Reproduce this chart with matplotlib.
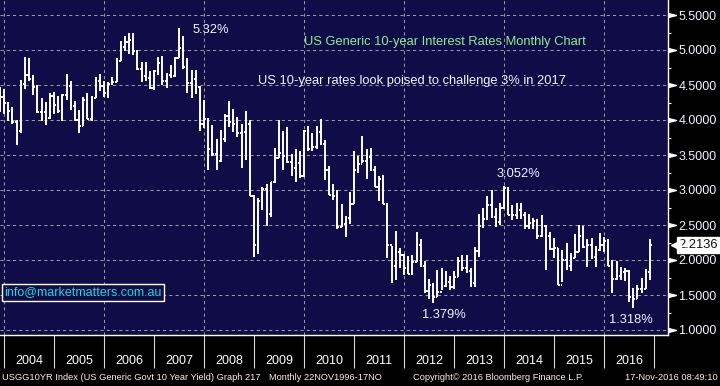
import numpy as np
import matplotlib.pyplot as plt
from matplotlib import transforms

plt.rcParams['font.family'] = ['Liberation Sans', 'DejaVu Sans']

# monthly bars, Nov 2003 .. Nov 2016 (bar dated at month end)
first_open = 4.29
highs = [4.47, 4.45,
         4.26, 4.18, 4.00, 4.57, 4.90, 4.89, 4.64, 4.50, 4.32, 4.26, 4.39, 4.40,
         4.35, 4.37, 4.66, 4.56, 4.27, 4.15, 4.33, 4.39, 4.35, 4.61, 4.66, 4.56,
         4.54, 4.62, 4.88, 5.13, 5.20, 5.25, 5.24, 5.00, 4.83, 4.83, 4.70, 4.72,
         4.90, 4.92, 4.67, 4.79, 4.90, 5.32, 5.20, 4.88, 4.72, 4.71, 4.48, 4.29,
         4.03, 3.93, 3.73, 3.86, 4.08, 4.27, 4.16, 4.04, 3.94, 4.13, 4.00, 2.93,
         2.88, 3.04, 3.08, 3.12, 3.60, 4.00, 3.84, 3.90, 3.52, 3.58, 3.56, 3.86,
         3.92, 3.81, 3.92, 4.01, 3.71, 3.34, 3.08, 3.00, 2.80, 2.63, 2.97, 3.56,
         3.49, 3.77, 3.58, 3.60, 3.35, 3.20, 3.22, 2.82, 2.20, 2.42, 2.17, 2.09,
         2.06, 2.07, 2.40, 2.30, 1.98, 1.73, 1.67, 1.86, 1.89, 1.85, 1.77, 1.85,
         2.04, 2.07, 2.07, 1.88, 2.19, 2.66, 2.75, 2.92, 3.00, 2.75, 2.81, 3.052,
         3.04, 2.79, 2.82, 2.81, 2.68, 2.66, 2.60, 2.58, 2.65, 2.50, 2.40, 2.31,
         2.17, 2.15, 2.25, 2.10, 2.37, 2.50, 2.48, 2.30, 2.31, 2.20, 2.38, 2.33,
         2.30, 2.00, 1.99, 1.90, 1.88, 1.86, 1.60, 1.64, 1.74, 1.87, 2.30]
lows = [4.12, 4.08,
        3.99, 3.95, 3.65, 3.82, 4.45, 4.56, 4.36, 4.10, 3.98, 3.93, 4.01, 4.09,
        4.10, 3.99, 4.29, 4.15, 3.99, 3.81, 3.91, 4.01, 3.99, 4.32, 4.42, 4.33,
        4.32, 4.50, 4.55, 4.84, 4.99, 4.95, 4.93, 4.71, 4.55, 4.56, 4.44, 4.43,
        4.65, 4.50, 4.46, 4.60, 4.61, 4.89, 4.73, 4.39, 4.32, 4.37, 3.84, 3.88,
        3.28, 3.48, 3.29, 3.40, 3.69, 3.90, 3.83, 3.76, 3.31, 3.43, 2.91, 2.04,
        2.08, 2.71, 2.48, 2.62, 3.10, 3.46, 3.29, 3.39, 3.20, 3.11, 3.17, 3.18,
        3.56, 3.56, 3.58, 3.65, 3.14, 2.93, 2.86, 2.44, 2.47, 2.33, 2.52, 2.80,
        3.25, 3.38, 3.16, 3.27, 3.04, 2.84, 2.80, 2.03, 1.67, 1.72, 1.88, 1.79,
        1.80, 1.79, 1.97, 1.90, 1.53, 1.44, 1.379, 1.47, 1.57, 1.61, 1.57, 1.58,
        1.76, 1.85, 1.82, 1.61, 1.61, 2.05, 2.46, 2.57, 2.60, 2.47, 2.50, 2.73,
        2.64, 2.57, 2.59, 2.59, 2.44, 2.44, 2.45, 2.30, 2.33, 1.86, 2.15, 2.03,
        1.64, 1.68, 1.86, 1.85, 2.03, 2.12, 2.17, 1.90, 2.02, 1.90, 2.13, 2.11,
        1.92, 1.53, 1.72, 1.71, 1.70, 1.40, 1.318, 1.45, 1.53, 1.59, 1.72]
closes = [4.33, 4.25,
          4.13, 3.97, 3.84, 4.51, 4.65, 4.58, 4.47, 4.12, 4.12, 4.03, 4.35, 4.22,
          4.13, 4.36, 4.48, 4.20, 4.00, 3.91, 4.28, 4.02, 4.32, 4.56, 4.49, 4.39,
          4.52, 4.55, 4.85, 5.05, 5.12, 5.14, 4.98, 4.73, 4.63, 4.60, 4.46, 4.70,
          4.82, 4.56, 4.64, 4.63, 4.89, 5.03, 4.76, 4.53, 4.59, 4.47, 3.94, 4.02,
          3.59, 3.51, 3.41, 3.73, 4.06, 3.97, 3.95, 3.81, 3.83, 3.95, 2.92, 2.21,
          2.84, 3.01, 2.66, 3.12, 3.46, 3.53, 3.48, 3.40, 3.31, 3.38, 3.20, 3.84,
          3.58, 3.61, 3.83, 3.66, 3.29, 2.93, 2.91, 2.47, 2.51, 2.60, 2.80, 3.29,
          3.37, 3.42, 3.47, 3.29, 3.05, 3.16, 2.80, 2.22, 1.92, 2.11, 2.07, 1.88,
          1.80, 1.97, 2.21, 1.91, 1.56, 1.65, 1.47, 1.55, 1.63, 1.69, 1.61, 1.76,
          1.98, 1.88, 1.85, 1.67, 2.13, 2.49, 2.58, 2.78, 2.61, 2.55, 2.74, 3.03,
          2.64, 2.65, 2.72, 2.64, 2.48, 2.53, 2.56, 2.34, 2.49, 2.34, 2.16, 2.17,
          1.64, 2.00, 1.92, 2.03, 2.12, 2.35, 2.18, 2.22, 2.04, 2.14, 2.21, 2.27,
          1.92, 1.73, 1.77, 1.83, 1.85, 1.47, 1.45, 1.58, 1.59, 1.83, 2.2136]
opens = [first_open] + closes[:-1]

years = list(range(2004, 2017))
last_price = 2.2136
callouts = [("5.32%", 2007.78, 5.29), ("3.052%", 2013.86, 3.23),
            ("1.379%", 2012.36, 1.21), ("1.318%", 2016.10, 1.14)]

navy = '#100c48'
x = 2004.0 - 1 / 12 + np.arange(len(closes)) / 12.0
w = 0.4 / 12

fig = plt.figure(figsize=(7.2, 3.86), dpi=100, facecolor='black')
ax = fig.add_axes([0, 1 - 335 / 386, 668 / 720, 335 / 386])
ax.set_facecolor(navy)
ax.set_xlim(2004 - 4 / 50, 2004 + 664 / 50)
ax.set_ylim(1.0 - 5 / 70, 5.5 + 15 / 70)

# grid
for yv in np.arange(1.0, 5.51, 0.5):
    ax.axhline(yv, color='#9a9a9a', lw=0.75, dashes=(3, 3), zorder=1)
for xv in range(2004, 2017, 2):
    ax.axvline(xv, color='#9a9a9a', lw=0.75, dashes=(3, 3), zorder=1)

# OHLC bars
ax.vlines(x, lows, highs, color='white', lw=1.4, zorder=3)
ax.hlines(opens, x - w, x, color='white', lw=1.4, zorder=3)
ax.hlines(closes, x, x + w, color='white', lw=1.4, zorder=3)

for s in ['top', 'left']:
    ax.spines[s].set_visible(False)
for s in ['right', 'bottom']:
    ax.spines[s].set_color('white')
    ax.spines[s].set_linewidth(1.0)

# y axis on right
ax.yaxis.tick_right()
yt = np.arange(1.0, 5.51, 0.5)
ax.set_yticks(yt)
ax.set_yticklabels([f'{v:.4f}' for v in yt])
ax.set_yticks(np.arange(1.25, 5.3, 0.5), minor=True)
ax.tick_params(axis='y', which='major', length=0, pad=7.5, labelsize=9,
               labelcolor='#f2f4ff')
ax.tick_params(axis='y', which='minor', length=2.5, width=0.8, color='white')
tri = transforms.blended_transform_factory(ax.transAxes, ax.transData)
ax.plot(np.ones(len(yt)), yt, ls='none', marker=[(0, -0.5), (2, 0), (0, 0.5)],
        ms=11.5, color='white', transform=tri, clip_on=False, zorder=5)

# x axis: year boundaries + labels
ax.set_xticks(years + [2017])
ax.set_xticklabels([])
ax.set_xticks([yr + 0.5 for yr in years], minor=True)
ax.set_xticklabels([str(yr) for yr in years], minor=True)
ax.tick_params(axis='x', which='major', length=24, width=0.8, color='#d8d8d8')
ax.tick_params(axis='x', which='minor', length=0, pad=14.5, labelsize=9,
               labelcolor='white')

# last price tag
ax.plot([1.012], [last_price], ls='none', marker='<', ms=7, color='white',
        transform=tri, clip_on=False, zorder=5)
ax.text(1.016, last_price, f'{last_price:.4f}', transform=tri, fontsize=9.3,
        color='#101010', va='center', ha='left', clip_on=False,
        bbox=dict(boxstyle='square,pad=0.15', fc='white', ec='white'))

# annotations
for txt, xv, yv in callouts:
    ax.text(xv, yv, txt, fontsize=9.3, color='#f2f4ff', va='center', ha='left')
ax.text(2010.0, 5.11, 'US Generic 10-year Interest Rates Monthly Chart',
        fontsize=9.3, color='#8cf08c', va='center', ha='left')
ax.text(2009.08, 4.56, 'US 10-year rates look poised to challenge 3% in 2017',
        fontsize=9.3, color='#f2f4ff', va='center', ha='left')
ax.text(2004.0, 1.54, 'info@marketmatters.com.au', fontsize=9, color='#20d8e0',
        va='center', ha='left',
        bbox=dict(boxstyle='square,pad=0.2', fc=navy, ec='white', lw=1))

# footer
fy = 1 - 378 / 386
fc = '#ffeedd'
fig.text(2 / 720, fy, 'USGG10YR Index (US Generic Govt 10 Year Yield) Graph 217',
         fontsize=6.7, color=fc, va='center', ha='left')
fig.text(269 / 720, fy, 'Monthly 22NOV1996-17NO', fontsize=6.7, color=fc,
         va='center', ha='left')
fig.text(413 / 720, fy, 'Copyright\u00a9 2016 Bloomberg Finance L.P.',
         fontsize=6.7, color=fc, va='center', ha='left')
fig.text(718 / 720, fy, '17-Nov-2016 08:49:10', fontsize=6.7, color=fc,
         va='center', ha='right')

fig.savefig('out.png', dpi=100, facecolor='black')
